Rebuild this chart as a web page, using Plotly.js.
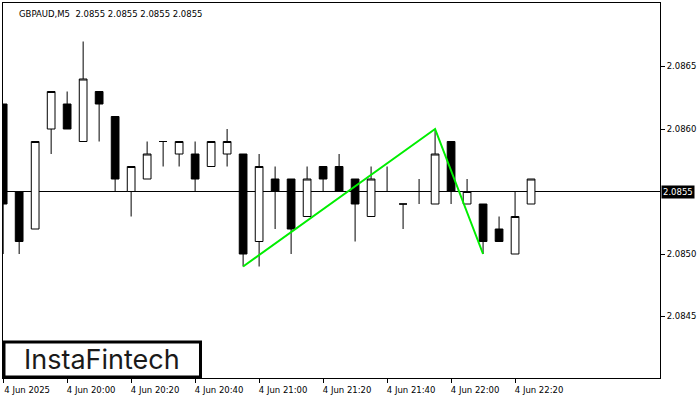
<!DOCTYPE html>
<html>
<head>
<meta charset="utf-8">
<script src="https://cdn.plot.ly/plotly-3.0.1.min.js"></script>
<style>html,body{margin:0;padding:0;background:#fff;}#chart{width:700px;height:400px;}</style>
</head>
<body>
<div id="chart"></div>
<script>
// ---- data ----
var times = ['19:40','19:45','19:50','19:55','20:00','20:05','20:10','20:15','20:20','20:25',
             '20:30','20:35','20:40','20:45','20:50','20:55','21:00','21:05','21:10','21:15',
             '21:20','21:25','21:30','21:35','21:40','21:45','21:50','21:55','22:00','22:05',
             '22:10','22:15','22:20','22:25'];
var openP  = [2.0862,2.0855,2.0852,2.0860,2.0862,2.0859,2.0863,2.0861,2.0855,2.0856,
              2.0859,2.0858,2.0858,2.0857,2.0858,2.0858,2.0851,2.0856,2.0856,2.0853,
              2.0857,2.0857,2.0856,2.0853,2.0855,2.0854,2.0855,2.0854,2.0859,2.0854,
              2.0854,2.0852,2.0850,2.0854];
var highP  = [2.0862,2.0855,2.0859,2.0863,2.0863,2.0867,2.0863,2.0861,2.0857,2.0859,
              2.0859,2.0859,2.0859,2.0859,2.0860,2.0858,2.0858,2.0857,2.0856,2.0857,
              2.0857,2.0858,2.0856,2.0857,2.0857,2.0854,2.0856,2.0860,2.0859,2.0856,
              2.0854,2.0853,2.0855,2.0856];
var lowP   = [2.0850,2.0850,2.0852,2.0858,2.0860,2.0859,2.0859,2.0855,2.0853,2.0856,
              2.0857,2.0857,2.0855,2.0857,2.0857,2.0849,2.0849,2.0852,2.0850,2.0853,
              2.0855,2.0855,2.0851,2.0853,2.0855,2.0852,2.0854,2.0854,2.0854,2.0854,
              2.0850,2.0851,2.0850,2.0854];
var closeP = [2.0854,2.0851,2.0859,2.0863,2.0860,2.0864,2.0862,2.0856,2.0857,2.0858,
              2.0859,2.0859,2.0856,2.0859,2.0859,2.0850,2.0857,2.0855,2.0852,2.0856,
              2.0856,2.0855,2.0854,2.0856,2.0855,2.0854,2.0855,2.0858,2.0855,2.0855,
              2.0851,2.0851,2.0853,2.0856];
var patternTimes  = ['20:55','21:55','22:10'];
var patternPrices = [2.0849, 2.0860, 2.0850];
var bidPrice = 2.0855;
var bidLabel = '2.0855';
var xTickTimes  = ['19:40','20:00','20:20','20:40','21:00','21:20','21:40','22:00','22:20'];
var xTickLabels = ['4 Jun 2025','4 Jun 20:00','4 Jun 20:20','4 Jun 20:40','4 Jun 21:00',
                   '4 Jun 21:20','4 Jun 21:40','4 Jun 22:00','4 Jun 22:20'];
var yTickVals   = [2.0845, 2.0850, 2.0860, 2.0865];
var yTickLabels = ['2.0845','2.0850','2.0860','2.0865'];
var titleText = 'GBPAUD,M5  2.0855 2.0855 2.0855 2.0855';
var logoText = 'InstaFintech';

var day = '2025-06-04 ';
function d(t){ return day + t; }

var font = {family: 'DejaVu Sans', size: 8.5, color: '#000'};

var traces = [
  {
    type: 'candlestick',
    x: times.map(d), open: openP, high: highP, low: lowP, close: closeP,
    increasing: {line: {color: '#000', width: 1}, fillcolor: '#fff'},
    decreasing: {line: {color: '#000', width: 1}, fillcolor: '#000'},
    whiskerwidth: 0,
    hoverinfo: 'skip',
    showlegend: false
  },
  {
    type: 'scatter', mode: 'lines',
    x: patternTimes.map(d), y: patternPrices,
    line: {color: '#00ee00', width: 2},
    hoverinfo: 'skip', showlegend: false
  }
];

var layout = {
  width: 700, height: 400,
  margin: {l: 3, r: 40, t: 3, b: 22},
  paper_bgcolor: '#fff', plot_bgcolor: '#fff',
  font: font,
  boxgap: 0.31,
  showlegend: false,
  xaxis: {
    type: 'date',
    range: [d('19:39:57'), d('23:05:18')],
    rangeslider: {visible: false},
    showgrid: false, zeroline: false,
    showline: true, mirror: true, linecolor: '#000', linewidth: 1,
    ticks: 'outside', ticklen: 4, tickcolor: '#000', tickwidth: 1,
    tickmode: 'array', tickvals: xTickTimes.map(d), ticktext: xTickLabels,
    ticklabelshift: 24, ticklabelstandoff: 0,
    tickfont: font, fixedrange: true
  },
  yaxis: {
    side: 'right',
    range: [2.084008, 2.087008],
    showgrid: false, zeroline: false,
    showline: true, mirror: true, linecolor: '#000', linewidth: 1,
    ticks: 'outside', ticklen: 4, tickcolor: '#000', tickwidth: 1,
    tickmode: 'array', tickvals: yTickVals, ticktext: yTickLabels,
    tickfont: font, fixedrange: true
  },
  shapes: [
    {type: 'line', xref: 'paper', x0: 0, x1: 1, yref: 'y', y0: bidPrice, y1: bidPrice,
     line: {color: '#000', width: 1}, layer: 'below'},
    {type: 'rect', xref: 'paper', yref: 'paper', x0: 0.0015, x1: 0.3006, y0: 0.0027, y1: 0.096,
     line: {color: '#000', width: 3}, fillcolor: '#fff', layer: 'above'}
  ],
  annotations: [
    {xref: 'paper', yref: 'paper', x: 0, y: 1, xanchor: 'left', yanchor: 'top',
     xshift: 14, yshift: -4, text: titleText, showarrow: false, font: font},
    {xref: 'paper', yref: 'y', x: 1, y: bidPrice, xanchor: 'left', yanchor: 'middle',
     xshift: 1, text: bidLabel, showarrow: false,
     bgcolor: '#000', borderpad: 1, font: {family: 'DejaVu Sans', size: 8.5, color: '#fff'}},
    {xref: 'paper', yref: 'paper', x: 0.1507, y: 0.0493, xanchor: 'center', yanchor: 'middle',
     text: logoText, showarrow: false,
     font: {family: 'Inter', size: 27, color: '#1a1a1a', weight: 400}}
  ]
};

Plotly.newPlot('chart', traces, layout, {displayModeBar: false, staticPlot: true});
</script>
</body>
</html>
